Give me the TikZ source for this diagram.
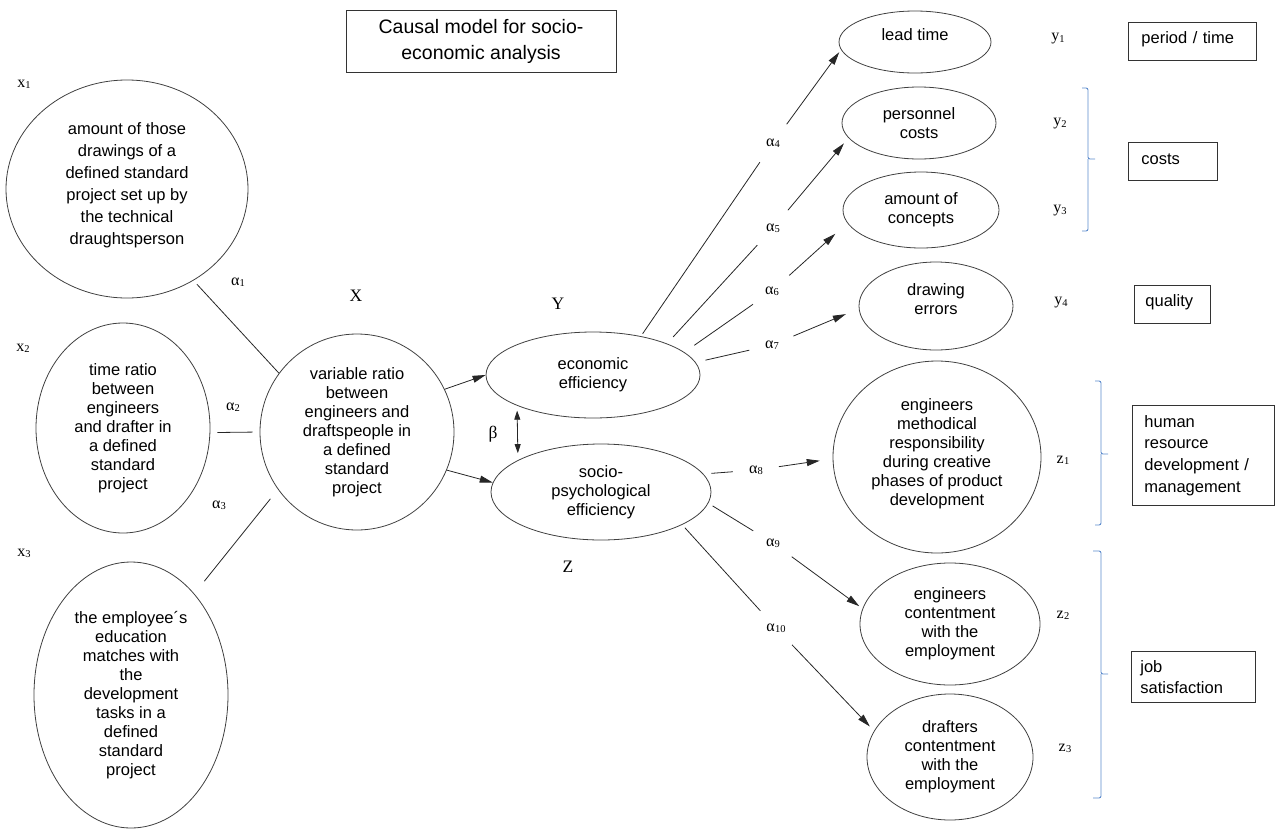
\documentclass[tikz,border=0pt]{standalone}
\usepackage{fontspec}
\setmainfont{Liberation Sans}
\newfontfamily\serifl{Liberation Serif}
\usetikzlibrary{shapes.geometric,arrows.meta}
\definecolor{bracecol}{RGB}{91,138,204}
\newcommand\lsub[2]{#1\kern0.2pt\raisebox{-1.2pt}{\fontsize{10.5}{10}\selectfont #2}}
\newcommand\upby[2]{\raisebox{#1}[\height][\depth]{\begin{tabular}{@{}c@{}}#2\end{tabular}}}
\newcommand\upbyl[2]{\raisebox{#1}[\height][\depth]{#2}}
\begin{document}
\begin{tikzpicture}[x=1pt,y=-1pt,
  every node/.style={font=\fontsize{16.5}{19}\selectfont},
  ell/.style={ellipse, draw=black!75, line width=0.8pt, align=center, inner sep=0pt},
  box/.style={draw=black!80, line width=0.8pt, align=left, anchor=north west, inner ysep=0pt},
  lab/.style={circle, inner sep=0pt, minimum size=46pt, font=\serifl\fontsize{16}{16}\selectfont},
  tl/.style={inner sep=0pt, font=\serifl\fontsize{16}{16}\selectfont},
  big/.style={inner sep=0pt, font=\serifl\fontsize{17.5}{17.5}\selectfont},
  conn/.style={draw=black!85, line width=0.8pt},
  arr/.style={conn, -{Triangle[length=13pt,width=7pt]}},
  brc/.style={draw=bracecol, line width=0.9pt, rounded corners=2pt},
]
\useasboundingbox (0,0) rectangle (1275,828);

% title
\node[draw=black!80, line width=0.8pt, minimum width=270pt, minimum height=62pt, align=center,
      font=\fontsize{19.5}{26}\selectfont, inner sep=0pt] (title) at (481,41)
      {Causal model for socio-\\economic analysis};

% left ellipses
\node[ell, minimum width=242pt, minimum height=218pt, font=\fontsize{16.5}{22}\selectfont] (x1) at (127,189)
  {\upby{4pt}{amount of those\\drawings of a\\defined standard\\project set up by\\the technical\\draughtsperson}};
\node[ell, minimum width=174pt, minimum height=210pt] (x2) at (123,428)
  {time ratio\\between\\engineers\\and drafter in\\a defined\\standard\\project};
\node[ell, minimum width=194pt, minimum height=266pt] (x3) at (131,695)
  {the employee´s\\education\\matches with\\the\\development\\tasks in a\\defined\\standard\\project};
\node[ell, minimum width=194pt, minimum height=196pt] (X) at (357,432)
  {variable ratio\\between\\engineers and\\draftspeople in\\a defined\\standard\\project};

% middle
\node[ell, minimum width=214pt, minimum height=86pt] (econ) at (593,375) {economic\\efficiency};
\node[ell, minimum width=220pt, minimum height=96pt] (socio) at (601,492) {socio-\\psychological\\efficiency};

% right ellipses
\node[ell, minimum width=152pt, minimum height=62pt] (lead) at (915,42) {\upbyl{7pt}{lead time}};
\node[ell, minimum width=154pt, minimum height=72pt] (pers) at (919,123) {personnel\\costs};
\node[ell, minimum width=156pt, minimum height=76pt] (conc) at (921,210) {amount of\\concepts};
\node[ell, minimum width=154pt, minimum height=88pt] (err) at (936,306) {\upby{5pt}{drawing\\errors}};
\node[ell, minimum width=208pt, minimum height=192pt] (meth) at (937,457)
  {\upby{3pt}{engineers\\methodical\\responsibility\\during creative\\phases of product\\development}};
\node[ell, minimum width=180pt, minimum height=122pt] (cont) at (950,624)
  {engineers\\contentment\\with the\\employment};
\node[ell, minimum width=166pt, minimum height=126pt] (draf) at (950,757)
  {drafters\\contentment\\with the\\employment};

% boxes
\node[box, text width=102pt, inner xsep=13pt, minimum height=38pt] (bper) at (1128,22) {\upbyl{2pt}{period / time}};
\node[box, text width=63pt, inner xsep=13pt, minimum height=38pt] (bcost) at (1128,142) {\upbyl{2pt}{costs}};
\node[box, text width=54pt, inner xsep=11pt, minimum height=38pt] (bqual) at (1134,285) {\upbyl{2pt}{quality}};
\node[box, text width=118pt, inner xsep=12pt, minimum height=100pt, font=\fontsize{16.5}{21.7}\selectfont] (bhr) at (1132,405)
  {human\\resource\\development /\\management};
\node[box, text width=106pt, inner xsep=9pt, minimum height=51pt, font=\fontsize{16.5}{21}\selectfont] (bjob) at (1131,651)
  {job\\satisfaction};

% braces
\draw[brc] (1082,88) -| (1088,159) -- (1095,159);
\draw[brc] (1088,159) |- (1082,231);
\draw[brc] (1095,381) -| (1101,454) -- (1108,454);
\draw[brc] (1101,454) |- (1095,525);
\draw[brc] (1093,551) -| (1101,674) -- (1108,674);
\draw[brc] (1101,674) |- (1093,798);

% variable labels
\node[tl] (lx1) at (24,84) {\lsub{x}{1}};
\node[tl] (lx2) at (23,348) {\lsub{x}{2}};
\node[tl] (lx3) at (24,553) {\lsub{x}{3}};
\node[tl] (la1) at (238,282) {\lsub{α}{1}};
\node[tl] (la2) at (233,407) {\lsub{α}{2}};
\node[tl] (la3) at (219,505) {\lsub{α}{3}};
\node[big] (lX) at (356,296) {X};
\node[big] (lY) at (558,304) {Y};
\node[big] (lZ) at (568,567) {Z};
\node[big] (lb) at (493,434) {β};
\node[tl] (ly1) at (1058,39) {\lsub{y}{1}};
\node[tl] (ly2) at (1060,124) {\lsub{y}{2}};
\node[tl] (ly3) at (1060,211) {\lsub{y}{3}};
\node[tl] (ly4) at (1061,303) {\lsub{y}{4}};
\node[tl] (lz1) at (1063,460) {\lsub{z}{1}};
\node[tl] (lz2) at (1063,615) {\lsub{z}{2}};
\node[tl] (lz3) at (1065,748) {\lsub{z}{3}};

% on-line labels
\node[lab] (a4) at (773,143) {\lsub{α}{4}};
\node[lab] (a5) at (773,228) {\lsub{α}{5}};
\node[lab] (a6) at (772,291) {\lsub{α}{6}};
\node[lab] (a7) at (772,345) {\lsub{α}{7}};
\node[lab] (a8) at (756,470) {\lsub{α}{8}};
\node[lab] (a9) at (773,543) {\lsub{α}{9}};
\node[lab] (a10) at (776,628) {\lsub{α}{10}};

% connectors left
\draw[conn, shorten <=5pt] (x1.-54) -- (X.143);
\draw[conn, shorten <=7pt, shorten >=7pt] (x2.-3) -- (X.180);
\draw[conn, shorten <=16pt, shorten >=12pt] (x3.58) -- (X.216);
\draw[arr] (X.26) -- (econ.180);
\draw[arr] (X.-23) -- (socio.175);
\draw[conn, {Triangle[length=9pt,width=6pt]}-{Triangle[length=9pt,width=6pt]}, shorten <=5pt, shorten >=7pt] (econ.202) -- (socio.159);

% connectors right
\draw[conn, shorten <=3pt] (econ.39) -- (a4);
\draw[arr, shorten >=3pt] (a4) -- (lead.186);
\draw[conn, shorten <=9pt] (econ.23) -- (a5);
\draw[arr, shorten >=7pt] (a5) -- (pers.192);
\draw[conn, shorten <=12pt] (econ.14) -- (a6);
\draw[arr, shorten >=16pt] (a6) -- (conc.190);
\draw[conn, shorten <=10pt] (econ.7) -- (a7);
\draw[arr, shorten >=14pt] (a7) -- (err.182);
\draw[conn, shorten <=8pt] (socio.10) -- (a8);
\draw[arr, shorten >=13pt] (a8) -- (meth.181);
\draw[conn, shorten <=5pt] (socio.-6) -- (a9);
\draw[arr, shorten >=4pt] (a9) -- (cont.170);
\draw[conn, shorten <=4pt] (socio.-22) -- (a10);
\draw[arr, shorten >=6pt] (a10) -- (draf.161);
\end{tikzpicture}
\end{document}
